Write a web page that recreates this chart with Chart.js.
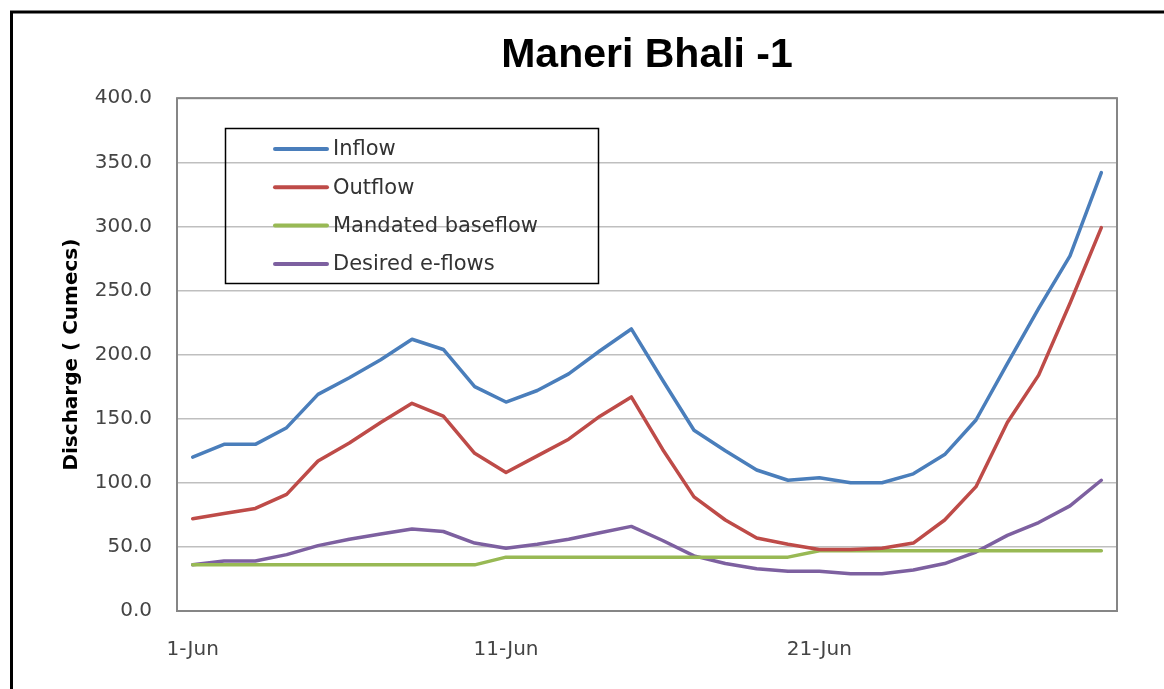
<!DOCTYPE html>
<html>
<head>
<meta charset="utf-8">
<script src="https://cdn.jsdelivr.net/npm/chart.js@4/dist/chart.umd.min.js"></script>
<style>
  html, body { margin: 0; padding: 0; background: #fff; }
  #wrap { position: relative; width: 1164px; height: 689px; }
</style>
</head>
<body>
<div id="wrap">
  <canvas id="flow-chart" width="1164" height="689"></canvas>
</div>

<script>
// data (cumecs), 1-Jun .. 30-Jun
const days = Array.from({ length: 30 }, (_, i) => `${i + 1}-Jun`);
const inflow = [120, 130, 130, 143, 169, 182, 196, 212, 204, 175, 163, 172, 185, 203, 220,
                180, 141, 125, 110, 102, 104, 100, 100, 107, 122, 149, 193, 236, 277, 342];
const outflow = [72, 76, 80, 91, 117, 131, 147, 162, 152, 123, 108, 121, 134, 152, 167,
                 126, 89, 71, 57, 52, 48, 48, 49, 53, 71, 97, 147, 184, 240, 299];
const baseflow = [36, 36, 36, 36, 36, 36, 36, 36, 36, 36, 42, 42, 42, 42, 42,
                  42, 42, 42, 42, 42, 47, 47, 47, 47, 47, 47, 47, 47, 47, 47];
const eflows = [36, 39, 39, 44, 51, 56, 60, 64, 62, 53, 49, 52, 56, 61, 66,
                55, 43, 37, 33, 31, 31, 29, 29, 32, 37, 46, 59, 69, 82, 102];
const yTicks = [0, 50, 100, 150, 200, 250, 300, 350, 400];

const FONT = "'DejaVu Sans', sans-serif";

// white page + black frame (top and left edge only, as in the picture)
const framePlugin = {
    id: 'frame',
    beforeDraw(chart) {
        const c = chart.ctx;
        c.save();
        c.fillStyle = '#fff';
        c.fillRect(0, 0, chart.width, chart.height);
        c.strokeStyle = '#000';
        c.lineWidth = 3;
        c.beginPath();
        c.moveTo(11.5, chart.height);
        c.lineTo(11.5, 12);
        c.lineTo(chart.width, 12);
        c.stroke();
        c.restore();
    }
};

// grey box round the plot area
const plotBoxPlugin = {
    id: 'plotBox',
    beforeDatasetsDraw(chart) {
        const { left, top, right, bottom } = chart.chartArea;
        const c = chart.ctx;
        c.save();
        c.strokeStyle = '#868686';
        c.lineWidth = 2;
        c.strokeRect(left, top, right - left, bottom - top);
        c.restore();
    }
};

// Excel-style legend box inside the plot
const boxLegendPlugin = {
    id: 'boxLegend',
    afterDraw(chart) {
        const c = chart.ctx;
        c.save();
        c.strokeStyle = '#000';
        c.lineWidth = 1.5;
        c.strokeRect(225.5, 128.5, 373, 155);
        c.font = `21px ${FONT}`;
        c.textBaseline = 'middle';
        c.fillStyle = '#333';
        chart.data.datasets.forEach((ds, i) => {
            const y = 149 + i * 38.3;
            c.strokeStyle = ds.borderColor;
            c.lineWidth = 4;
            c.lineCap = 'round';
            c.beginPath();
            c.moveTo(275, y);
            c.lineTo(327, y);
            c.stroke();
            c.fillText(ds.label, 333, y + 1);
        });
        c.restore();
    }
};

const line = (label, data, color) => ({
    label, data,
    borderColor: color, backgroundColor: color,
    borderWidth: 3.5, pointRadius: 0, tension: 0,
    borderJoinStyle: 'round', borderCapStyle: 'round', fill: false
});

new Chart(document.getElementById('flow-chart'), {
    type: 'line',
    data: {
        labels: days,
        datasets: [
            line('Inflow', inflow, '#4a7ebb'),
            line('Outflow', outflow, '#be4b48'),
            line('Mandated baseflow', baseflow, '#98b954'),
            line('Desired e-flows', eflows, '#7d60a0')
        ]
    },
    options: {
        responsive: false,
        animation: false,
        layout: { padding: { top: 0, left: 56, right: 47, bottom: 0 } },
        plugins: {
            legend: { display: false },
            tooltip: { enabled: false },
            title: {
                display: true,
                text: 'Maneri Bhali -1',
                fullSize: false,
                color: '#000',
                font: { family: "'Liberation Sans', Arial, sans-serif", size: 41, weight: 'bold' },
                padding: { top: 31, bottom: 18 }
            }
        },
        scales: {
            x: {
                offset: true,
                grid: { display: false },
                border: { display: false },
                ticks: {
                    autoSkip: false, maxRotation: 0, padding: 19,
                    color: '#444', font: { family: FONT, size: 20 },
                    callback: (v, i) => (i % 10 === 0 ? days[i] : '')
                },
                afterFit: s => { s.height = 78; }
            },
            y: {
                min: 0, max: 400,
                afterBuildTicks: s => { s.ticks = yTicks.map(v => ({ value: v })); },
                grid: { color: '#bfbfbf', lineWidth: 1.5, drawTicks: false },
                border: { display: false },
                ticks: {
                    padding: 25, color: '#444', font: { family: FONT, size: 20 },
                    callback: v => Number(v).toFixed(1)
                },
                title: {
                    display: true,
                    text: 'Discharge ( Cumecs)',
                    color: '#000',
                    font: { family: FONT, size: 20, weight: 'bold' },
                    padding: { top: 4, bottom: 0 }
                },
                afterFit: s => { s.width = 121; }
            }
        }
    },
    plugins: [framePlugin, plotBoxPlugin, boxLegendPlugin]
});
</script>
</body>
</html>
